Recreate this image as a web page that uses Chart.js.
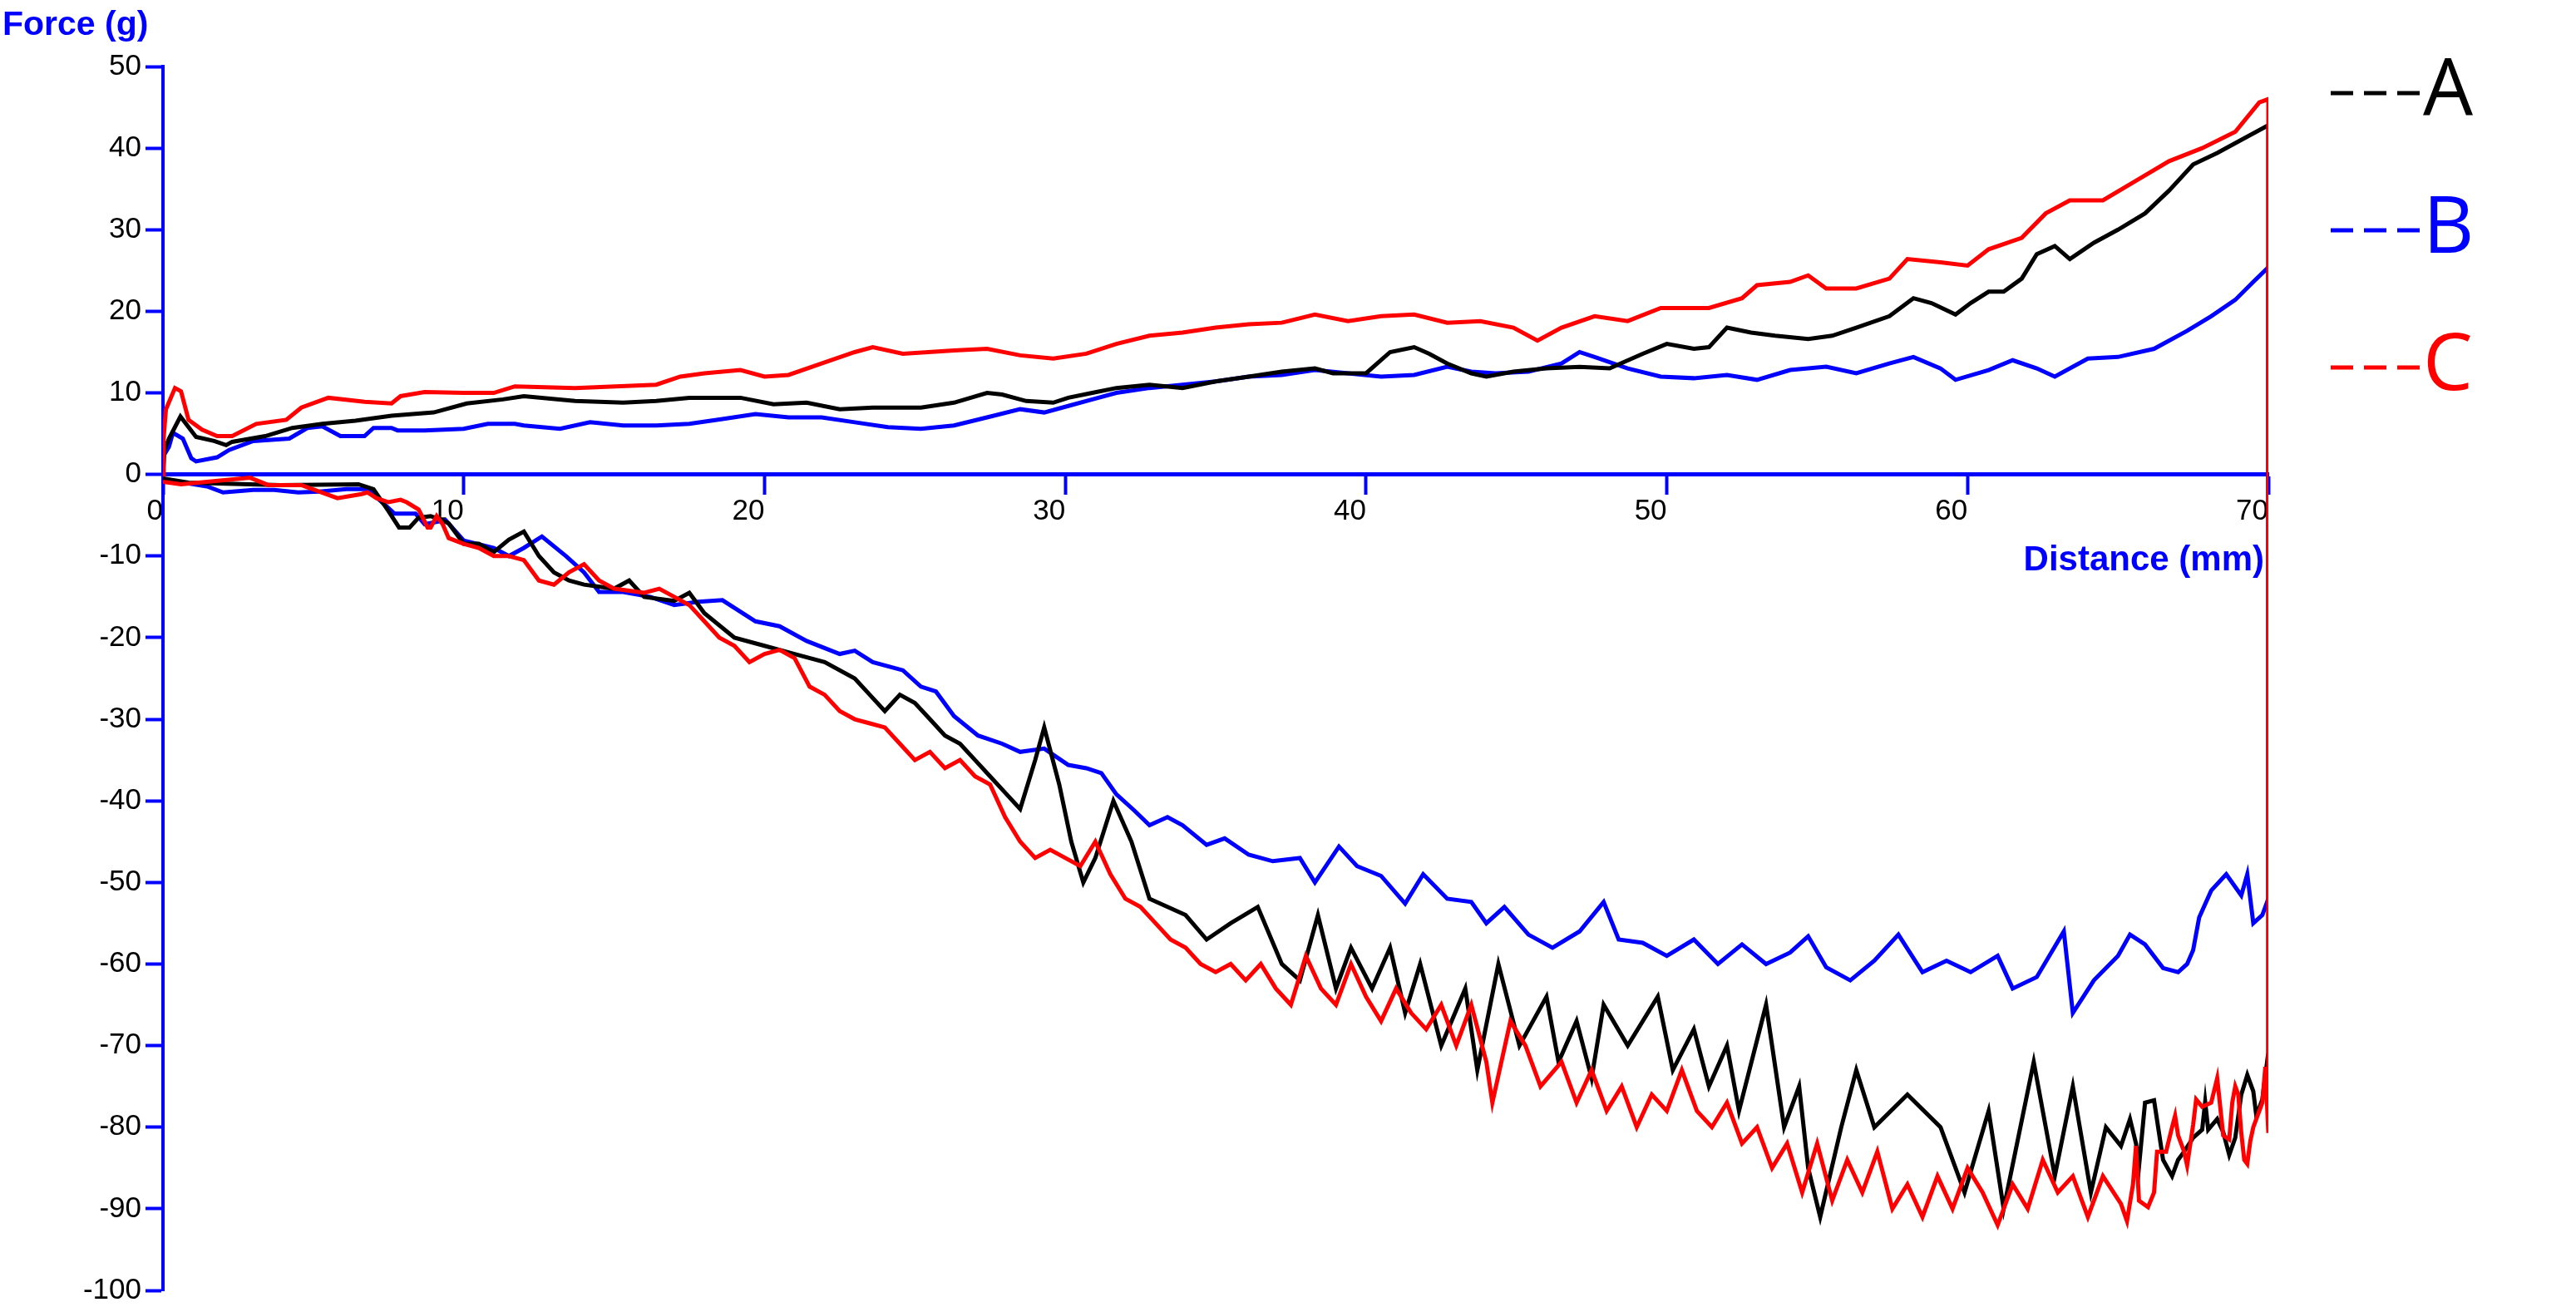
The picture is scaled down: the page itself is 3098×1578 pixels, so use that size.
<!DOCTYPE html>
<html lang="en">
<head>
    <meta charset="UTF-8">
    <title>Force vs Distance</title>
    <style>
        body {
            margin: 0;
            background: #ffffff;
        }
        canvas {
            display: block;
        }
    </style>
    <script src="https://cdn.jsdelivr.net/npm/chart.js"></script>
</head>
<body>

<canvas id="grafico" width="3098" height="1578"></canvas>

<script>
// Sample A (black) - upper branch, 0 -> 70 mm
const aUpDist = [0, 0.05, 0.2, 0.58, 1.1, 1.7, 2.1, 2.3, 3.4, 4.3,
    5.3, 6.4, 7.6, 9.0, 10.1, 11.3, 12.0, 13.7, 15.3, 16.4,
    17.5, 19.2, 20.3, 21.4, 22.5, 23.6, 25.2, 26.3, 27.4, 27.9,
    28.7, 29.6, 30.1, 30.9, 31.7, 32.8, 33.9, 35.0, 36.1, 37.2,
    38.3, 38.9, 40.0, 40.8, 41.6, 42.1, 42.7, 43.5, 44.0, 44.9,
    46.0, 47.1, 48.1, 49.2, 50.0, 50.9, 51.4, 52.0, 52.8, 53.6,
    54.7, 55.5, 56.3, 57.4, 58.2, 58.8, 59.6, 60.1, 60.7, 61.2,
    61.8, 62.3, 62.9, 63.4, 64.2, 65.0, 65.9, 66.7, 67.5, 68.3,
    69.1, 70.0];
const aUpForce = [0, 3.0, 4.4, 7.1, 4.6, 4.1, 3.6, 4.0, 4.7, 5.7,
    6.2, 6.6, 7.2, 7.6, 8.7, 9.2, 9.6, 9.0, 8.8, 9.0,
    9.4, 9.4, 8.6, 8.8, 8.0, 8.2, 8.2, 8.8, 10.0, 9.8,
    9.0, 8.8, 9.4, 10.0, 10.6, 11.0, 10.6, 11.4, 12.0, 12.6,
    13.0, 12.4, 12.4, 15.0, 15.6, 14.8, 13.6, 12.4, 12.0, 12.6,
    13.0, 13.2, 13.0, 14.8, 16.0, 15.4, 15.6, 18.0, 17.4, 17.0,
    16.6, 17.0, 18.0, 19.4, 21.6, 21.0, 19.6, 21.0, 22.4, 22.4,
    24.0, 27.0, 28.0, 26.4, 28.4, 30.0, 32.0, 34.8, 38.0, 39.4,
    41.0, 42.8];
// Sample A - lower branch (listed by increasing distance, drawn 70 -> 0)
const aDownDist = [0, 0.85, 3.9, 6.5, 7.0, 7.5, 7.85, 8.2, 8.5, 8.9,
    9.2, 9.5, 10.0, 10.5, 11.0, 11.5, 12.0, 12.5, 13.0, 13.5,
    14.0, 15.0, 15.5, 16.0, 17.0, 17.5, 18.0, 19.0, 20.0, 21.0,
    22.0, 23.0, 23.5, 24.0, 24.5, 25.0, 25.5, 26.0, 26.5, 27.0,
    27.5, 28.0, 28.5, 29.0, 29.3, 29.8, 30.2, 30.6, 31.0, 31.6,
    32.2, 32.8, 33.4, 34.0, 34.7, 35.5, 36.4, 37.2, 37.8, 38.4,
    39.0, 39.5, 40.2, 40.8, 41.3, 41.8, 42.5, 43.3, 43.7, 44.4,
    45.1, 46.0, 46.4, 47.0, 47.5, 47.9, 48.7, 49.7, 50.2, 50.9,
    51.4, 52.0, 52.4, 53.3, 53.9, 54.4, 54.7, 55.1, 55.8, 56.3,
    56.9, 58.0, 59.1, 59.9, 60.7, 61.2, 62.2, 62.9, 63.5, 64.1,
    64.6, 65.1, 65.4, 65.6, 65.7, 65.9, 66.2, 66.5, 66.8, 67.0,
    67.2, 67.5, 67.8, 67.9, 68.0, 68.3, 68.5, 68.7, 68.9, 69.1,
    69.3, 69.5, 69.6, 69.8, 70.0];
const aDownForce = [-0.5, -1, -1.3, -1.2, -1.8, -4.5, -6.5, -6.5, -5.3, -5.1,
    -5.5, -6, -8.5, -8.5, -9.5, -8, -7, -10, -12, -13,
    -13.5, -14, -13, -15, -15.5, -14.5, -17, -20, -21, -22,
    -23, -25, -27, -29, -27, -28, -30, -32, -33, -35,
    -37, -39, -41, -35, -31, -38, -45, -50, -47, -40,
    -45, -52, -53, -54, -57, -55, -53, -60, -62, -54,
    -63, -58, -63, -58, -66, -60, -70, -63, -73, -60,
    -70, -64, -72, -67, -74, -65, -70, -64, -73, -68,
    -75, -70, -78, -65, -80, -75, -85, -91, -80, -73,
    -80, -76, -80, -88, -78, -90, -72, -86, -75, -88,
    -80, -82.3, -79, -82, -84.8, -77, -76.7, -84, -86, -84,
    -83, -81.3, -80.3, -76.9, -80.3, -79, -80.6, -83.4, -81.3, -76,
    -73.6, -75.6, -78.6, -76.6, -70.8];

// Sample B (blue)
const bUpDist = [0, 0.02, 0.2, 0.33, 0.66, 0.94, 1.1, 1.8, 2.2, 3.0,
    4.2, 4.8, 5.3, 5.9, 6.7, 7.0, 7.6, 7.8, 8.7, 10.0,
    10.8, 11.7, 12.0, 13.2, 14.2, 15.3, 16.4, 17.5, 18.6, 19.7,
    20.8, 21.9, 23.0, 24.1, 25.2, 26.3, 27.4, 28.5, 29.3, 30.1,
    30.9, 31.7, 32.8, 33.9, 35.0, 36.1, 37.2, 38.3, 39.4, 40.5,
    41.6, 42.7, 43.5, 44.3, 45.4, 46.5, 47.1, 47.6, 48.7, 49.8,
    50.9, 52.0, 53.0, 54.1, 55.3, 56.3, 57.4, 58.2, 59.1, 59.6,
    60.7, 61.5, 62.3, 62.9, 64.0, 65.0, 66.2, 67.3, 68.1, 68.9,
    69.5, 70.0];
const bUpForce = [0, 2.3, 3.4, 5.1, 4.4, 2.0, 1.6, 2.1, 3.0, 4.1,
    4.4, 5.7, 5.9, 4.7, 4.7, 5.7, 5.7, 5.4, 5.4, 5.6,
    6.2, 6.2, 6.0, 5.6, 6.4, 6.0, 6.0, 6.2, 6.8, 7.4,
    7.0, 7.0, 6.4, 5.8, 5.6, 6.0, 7.0, 8.0, 7.6, 8.4,
    9.2, 10.0, 10.6, 11.0, 11.4, 12.0, 12.2, 12.8, 12.4, 12.0,
    12.2, 13.2, 12.6, 12.4, 12.6, 13.6, 15.0, 14.4, 13.0, 12.0,
    11.8, 12.2, 11.6, 12.8, 13.2, 12.4, 13.6, 14.4, 13.0, 11.6,
    12.8, 14.0, 13.0, 12.0, 14.2, 14.4, 15.4, 17.6, 19.4, 21.4,
    23.6, 25.4];
const bDownDist = [0, 1.5, 2.0, 3.0, 3.7, 4.5, 5.2, 6.1, 6.8, 7.4,
    7.7, 8.4, 8.7, 9.4, 10.0, 11.0, 11.5, 12.0, 12.6, 13.4,
    14.0, 14.5, 15.3, 16.2, 17.0, 17.8, 18.6, 19.7, 20.5, 21.4,
    22.5, 23.0, 23.6, 24.6, 25.2, 25.7, 26.3, 27.1, 27.9, 28.5,
    29.3, 30.1, 30.7, 31.2, 31.7, 32.3, 32.8, 33.4, 33.9, 34.7,
    35.3, 36.1, 36.9, 37.8, 38.3, 39.1, 39.7, 40.5, 41.3, 41.9,
    42.7, 43.5, 44.0, 44.6, 45.4, 46.2, 47.1, 47.9, 48.4, 49.2,
    50.0, 50.9, 51.7, 52.5, 53.3, 54.1, 54.7, 55.3, 56.1, 56.9,
    57.7, 58.5, 59.3, 60.1, 61.0, 61.5, 62.3, 63.2, 63.5, 64.2,
    65.0, 65.4, 65.9, 66.5, 67.0, 67.3, 67.5, 67.7, 68.1, 68.6,
    69.1, 69.3, 69.5, 69.8, 70.0];
const bDownForce = [-0.6, -1.5, -2.2, -1.9, -1.9, -2.2, -2.1, -1.8, -1.8, -3.8,
    -4.8, -4.8, -6.1, -5.6, -8.1, -9, -10, -9, -7.6, -10,
    -12, -14.4, -14.4, -15, -16, -15.6, -15.4, -18, -18.6, -20.4,
    -22, -21.6, -23, -24, -26, -26.6, -29.6, -32, -33, -34,
    -33.6, -35.6, -36, -36.6, -39.2, -41.2, -43, -42, -43, -45.4,
    -44.6, -46.6, -47.4, -47, -50, -45.6, -48, -49.2, -52.6, -49,
    -52, -52.4, -55, -53, -56.4, -58, -56, -52.4, -57, -57.4,
    -59, -57, -60, -57.6, -60, -58.6, -56.6, -60.4, -62, -59.6,
    -56.4, -61, -59.6, -61, -59, -63, -61.6, -56, -66, -62,
    -59, -56.4, -57.6, -60.5, -61, -60, -58.3, -54.3, -51, -49,
    -51.6, -49, -55, -54, -52];

// Sample C (red)
const cUpDist = [0, 0.02, 0.1, 0.4, 0.6, 0.85, 1.3, 1.8, 2.3, 3.1,
    4.1, 4.6, 5.5, 6.7, 7.6, 7.9, 8.7, 10.0, 11.0, 11.7,
    13.7, 16.4, 17.2, 18.0, 19.2, 20.0, 20.8, 21.9, 23.0, 23.6,
    24.6, 26.3, 27.4, 28.5, 29.6, 30.7, 31.7, 32.8, 33.9, 35.0,
    36.1, 37.2, 38.3, 39.4, 40.5, 41.6, 42.7, 43.8, 44.9, 45.7,
    46.5, 47.6, 48.7, 49.8, 51.4, 52.5, 53.0, 54.1, 54.7, 55.3,
    56.3, 57.4, 58.0, 59.1, 60.0, 60.7, 61.8, 62.6, 63.4, 64.5,
    65.6, 66.7, 67.8, 68.9, 69.7, 70.0];
const cUpForce = [0, 4.4, 8.0, 10.6, 10.2, 6.7, 5.5, 4.7, 4.7, 6.2,
    6.7, 8.2, 9.4, 8.9, 8.7, 9.6, 10.1, 10.0, 10.0, 10.8,
    10.6, 11.0, 12.0, 12.4, 12.8, 12.0, 12.2, 13.6, 15.0, 15.6,
    14.8, 15.2, 15.4, 14.6, 14.2, 14.8, 16.0, 17.0, 17.4, 18.0,
    18.4, 18.6, 19.6, 18.8, 19.4, 19.6, 18.6, 18.8, 18.0, 16.4,
    18.0, 19.4, 18.8, 20.4, 20.4, 21.6, 23.2, 23.6, 24.4, 22.8,
    22.8, 24.0, 26.4, 26.0, 25.6, 27.6, 29.0, 32.0, 33.6, 33.6,
    36.0, 38.4, 40.0, 42.0, 45.6, 46.0];
const cDownDist = [0, 0.6, 2.9, 3.5, 4.6, 5.8, 6.6, 6.8, 7.1, 7.5,
    7.9, 8.1, 8.5, 8.8, 8.9, 9.1, 9.3, 9.5, 10.0, 10.5,
    11.0, 11.5, 12.0, 12.5, 13.0, 13.5, 14.0, 14.5, 15.0, 16.0,
    16.5, 17.0, 17.5, 18.0, 18.5, 19.0, 19.5, 20.0, 20.5, 21.0,
    21.5, 22.0, 22.5, 23.0, 23.5, 24.0, 24.5, 25.0, 25.5, 26.0,
    26.5, 27.0, 27.5, 28.0, 28.5, 29.0, 29.5, 30.0, 30.5, 31.0,
    31.5, 32.0, 32.5, 33.0, 33.5, 34.0, 34.5, 35.0, 35.5, 36.0,
    36.5, 37.0, 37.5, 38.0, 38.5, 39.0, 39.5, 40.0, 40.5, 41.0,
    41.5, 42.0, 42.5, 43.0, 43.5, 44.0, 44.2, 44.8, 45.3, 45.8,
    46.5, 47.0, 47.5, 48.0, 48.5, 49.0, 49.5, 50.0, 50.5, 51.0,
    51.5, 52.0, 52.5, 53.0, 53.5, 54.0, 54.5, 55.0, 55.5, 56.0,
    56.5, 57.0, 57.5, 58.0, 58.5, 59.0, 59.5, 60.0, 60.5, 61.0,
    61.5, 62.0, 62.5, 63.0, 63.5, 64.0, 64.5, 65.1, 65.3, 65.5,
    65.6, 65.7, 66.0, 66.2, 66.3, 66.6, 66.8, 66.9, 67.0, 67.2,
    67.3, 67.5, 67.6, 67.8, 68.1, 68.3, 68.5, 68.7, 68.8, 68.9,
    69.0, 69.1, 69.2, 69.3, 69.4, 69.5, 69.6, 69.8, 69.9, 70.0];
const cDownForce = [-0.9, -1.2, -0.4, -1.3, -1.3, -2.9, -2.4, -2.2, -2.9, -3.4,
    -3.1, -3.4, -4.3, -6.5, -6.5, -5.1, -6.1, -7.8, -8.5, -9,
    -10, -10, -10.5, -13, -13.5, -12, -11, -13, -14, -14.5,
    -14, -15, -16, -18, -20, -21, -23, -22, -21.5, -22.5,
    -26, -27, -29, -30, -30.5, -31, -33, -35, -34, -36,
    -35, -37, -38, -42, -45, -47, -46, -47, -48, -45,
    -49, -52, -53, -55, -57, -58, -60, -61, -60, -62,
    -60, -63, -65, -59, -63, -65, -60, -64, -67, -63,
    -66, -68, -65, -70, -65, -72, -77, -67, -70, -75,
    -72, -77, -73, -78, -75, -80, -76, -78, -73, -78,
    -80, -77, -82, -80, -85, -82, -88, -82, -89, -84,
    -88, -83, -90, -87, -91, -86, -90, -85, -88, -92,
    -87, -90, -84, -88, -86, -91, -86, -89.4, -91.5, -87,
    -82.3, -89, -89.8, -88, -83, -83, -80, -78.6, -81, -83,
    -84.7, -79.7, -76.6, -77.5, -77, -74, -81, -81.5, -77, -75,
    -76, -80.7, -84, -84.5, -81.7, -80, -79, -77, -72.6, -80.7];

const xTicks = [0, 10, 20, 30, 40, 50, 60, 70];
const yTicks = [-100, -90, -80, -70, -60, -50, -40, -30, -20, -10, 0, 10, 20, 30, 40, 50];

// upper branch forward, then the lower branch back from 70 to 0
function trazo(upX, upY, downX, downY) {
    const pts = upX.map((x, i) => ({ x: x, y: upY[i] }));
    for (let i = downX.length - 1; i >= 0; i--) {
        pts.push({ x: downX[i], y: downY[i] });
    }
    return pts;
}

const fuente = '"Liberation Sans", Arial, sans-serif';

// axis titles and the A/B/C key
const textos = {
    id: 'textos',
    afterDraw(chart) {
        const c = chart.ctx;
        const y0 = chart.scales.y.getPixelForValue(0);
        c.save();
        c.fillStyle = '#0000ff';
        c.textBaseline = 'alphabetic';
        c.font = 'bold 41px ' + fuente;
        c.textAlign = 'left';
        c.fillText('Force (g)', 3, 42);
        c.font = 'bold 42px ' + fuente;
        c.textAlign = 'right';
        c.fillText('Distance (mm)', chart.chartArea.right - 5, y0 + 115);

        chart.data.datasets.forEach((ds, i) => {
            const y = 112 + i * 165;
            c.strokeStyle = ds.borderColor;
            c.lineWidth = 5;
            c.setLineDash([27, 13]);
            c.beginPath();
            c.moveTo(2803, y);
            c.lineTo(2910, y);
            c.stroke();
            c.setLineDash([]);
            c.fillStyle = ds.borderColor;
            c.font = '95px "Open Sans", "Noto Sans", sans-serif';
            c.textAlign = 'left';
            c.fillText(ds.label, 2914, y + 27);
        });
        c.restore();
    }
};

const ctx = document.getElementById('grafico').getContext('2d');
const chart = new Chart(ctx, {
    type: 'line',
    data: {
        datasets: [{
            label: 'A',
            data: trazo(aUpDist, aUpForce, aDownDist, aDownForce),
            borderColor: '#000000',
            order: 1
        }, {
            label: 'B',
            data: trazo(bUpDist, bUpForce, bDownDist, bDownForce),
            borderColor: '#0000ff',
            order: 2
        }, {
            label: 'C',
            data: trazo(cUpDist, cUpForce, cDownDist, cDownForce),
            borderColor: '#ff0000',
            order: 0
        }]
    },
    options: {
        responsive: false,
        animation: false,
        layout: { padding: { top: 80, right: 370, bottom: 21, left: 0 } },
        elements: {
            point: { radius: 0 },
            line: { borderWidth: 5, tension: 0, fill: false, borderJoinStyle: 'miter' }
        },
        plugins: {
            legend: { display: false },
            tooltip: { enabled: false }
        },
        scales: {
            x: {
                type: 'linear',
                min: 0,
                max: 70,
                position: { y: 0 },
                afterBuildTicks: s => { s.ticks = xTicks.map(v => ({ value: v })); },
                ticks: {
                    align: 'end',
                    padding: 2,
                    color: '#000000',
                    font: { family: fuente, size: 35 }
                },
                grid: { drawOnChartArea: false, tickLength: 22, tickWidth: 4, tickColor: '#0000ff' },
                border: { color: '#0000ff', width: 5 }
            },
            y: {
                type: 'linear',
                min: -100,
                max: 50,
                afterBuildTicks: s => { s.ticks = yTicks.map(v => ({ value: v })); },
                afterFit: s => { s.width = 196; },
                ticks: {
                    padding: 5,
                    color: '#000000',
                    font: { family: fuente, size: 35 }
                },
                grid: { drawOnChartArea: false, tickLength: 21, tickWidth: 4, tickColor: '#0000ff' },
                border: { color: '#0000ff', width: 4 }
            }
        }
    },
    plugins: [textos]
});
</script>

</body>
</html>
